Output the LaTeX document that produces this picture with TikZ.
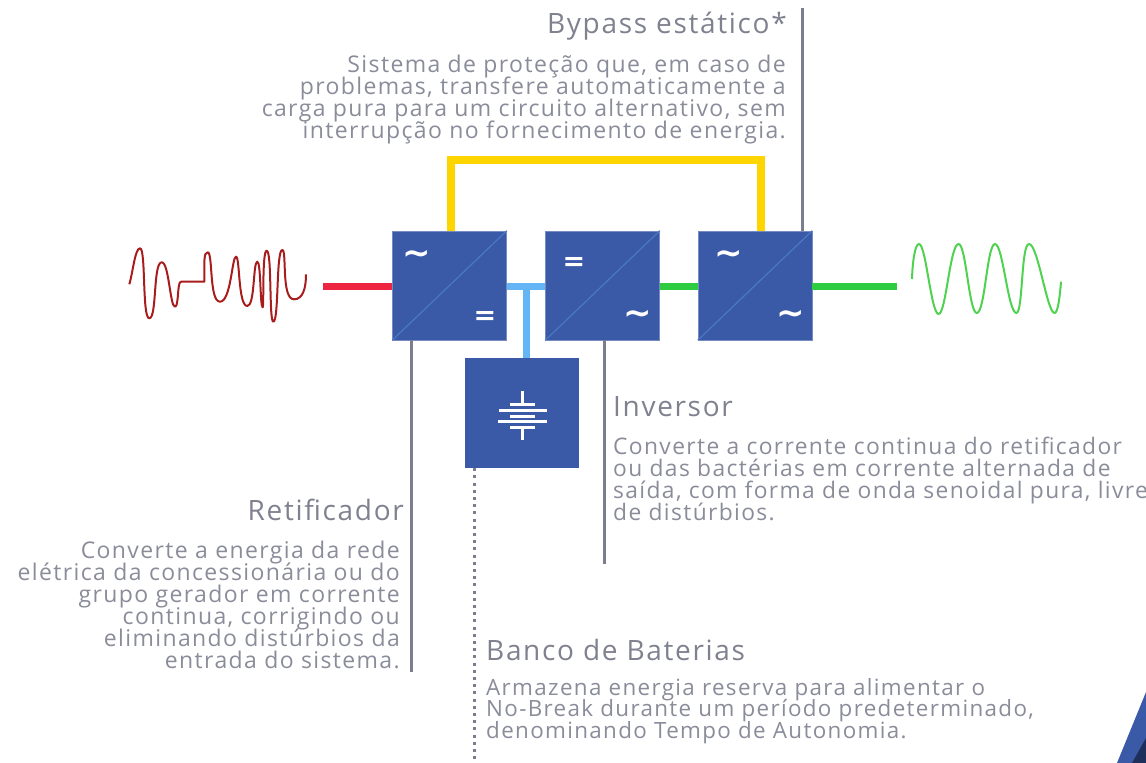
\documentclass[tikz,border=0pt]{standalone}
\usepackage{fontspec}
\setmainfont{Open Sans}[LetterSpace=6]
\newfontfamily\symfont{DejaVu Sans}
\setlength{\lineskiplimit}{-20pt}
\setlength{\normallineskiplimit}{-20pt}
\definecolor{boxblue}{HTML}{3A5AA8}
\definecolor{diagblue}{HTML}{4A78C4}
\definecolor{darkblue}{HTML}{1E2F5C}
\definecolor{lineGrey}{HTML}{7C7E90}
\definecolor{headGrey}{HTML}{7F818F}
\definecolor{bodyGrey}{HTML}{8A8C9A}
\definecolor{redline}{HTML}{EE2540}
\definecolor{skyline}{HTML}{64B5F6}
\definecolor{greenline}{HTML}{2ECC40}
\definecolor{yellowline}{HTML}{FFD500}
\definecolor{redwave}{HTML}{A81C1C}
\definecolor{greenwave}{HTML}{4FD24F}
\tikzset{
  conv/.style={draw=boxblue!70!white,line width=.5pt,fill=boxblue,minimum width=114pt,minimum height=109pt,inner sep=0pt},
  battbox/.style={fill=boxblue,minimum width=114pt,minimum height=110pt,inner sep=0pt},
  diag/.style={diagblue,line width=1.2pt},
  sym/.style={text=white,font=\symfont\bfseries\fontsize{27}{27}\selectfont,inner sep=0pt},
  tilde/.style={text=white,font=\symfont\bfseries\fontsize{34}{34}\selectfont,inner sep=0pt},
  head/.style={text=headGrey,font=\fontsize{28}{28}\selectfont,inner sep=0pt},
  body/.style={text=bodyGrey,font=\fontsize{23}{22}\selectfont,inner sep=0pt},
  bodyb/.style={text=bodyGrey,font=\fontsize{22.8}{22}\selectfont,inner sep=0pt},
  bodyc/.style={text=bodyGrey,font=\fontsize{22.4}{21.6}\selectfont,inner sep=0pt},
  wire/.style={line width=7pt},
  leader/.style={lineGrey,line width=3pt},
  battline/.style={white,line width=3pt},
}
\begin{document}
\begin{tikzpicture}[x=1pt,y=-1pt]
\useasboundingbox (0,0) rectangle (1146,763);
% corner decoration
\fill[boxblue] (1146,692) -- (1117,763) -- (1146,763) -- cycle;
\fill[darkblue] (1146,738) -- (1132,763) -- (1146,763) -- cycle;
% coordinates for free ends
\coordinate (redEnd) at (323,286);
\coordinate (greenEnd) at (897,286);
\coordinate (y1) at (451,160);
\coordinate (y2) at (761,160);
\coordinate (bpTop) at (802,8);
\coordinate (retEnd) at (411,672);
\coordinate (invEnd) at (604,564);
\coordinate (batEnd) at (474,760);
\coordinate (tee) at (526,286);
\node[conv] (ret) at (449.5,285.5) {};
\node[conv] (inv) at (602.5,285.5) {};
\node[conv] (byp) at (755,285.5) {};
\node[battbox] (bat) at (522,413) {};
% connectors
\draw[wire,redline] (redEnd) -- (ret.west |- redEnd);
\draw[wire,skyline] (ret.east |- tee) -- (inv.west |- tee);
\draw[wire,skyline] (tee) -- (bat.north -| tee);
\draw[wire,greenline] (inv.east |- tee) -- (byp.west |- tee);
\draw[wire,greenline] (byp.east |- greenEnd) -- (greenEnd);
\draw[yellowline,line width=7.5pt,miter limit=10] (ret.north -| y1) -- (y1) -- (y2) -- (byp.north -| y2);
\draw[leader] (bpTop) -- (byp.north -| bpTop);
\draw[leader] (ret.south -| retEnd) -- (retEnd);
\draw[leader] (inv.south -| invEnd) -- (invEnd);
\draw[lineGrey,line width=3pt,dash pattern=on 3pt off 4.2pt] (bat.south -| batEnd) -- (batEnd);
% diagonals
\draw[diag] (ret.south west) -- (ret.north east);
\draw[diag] (inv.south west) -- (inv.north east);
\draw[diag] (byp.south west) -- (byp.north east);
% symbols
\node[tilde] (s1) at (417,257) {\char"223C};
\node[sym] (s2) at (485,318) {=};
\node[sym] (s3) at (574,264) {=};
\node[tilde] (s4) at (638,317) {\char"223C};
\node[tilde] (s5) at (729,257) {\char"223C};
\node[tilde] (s6) at (791,317) {\char"223C};
% battery symbol
\draw[battline] (522.7,391) -- (522.7,404);
\draw[battline] (522.7,427) -- (522.7,440);
\draw[battline] (510,404) -- (535,404);
\draw[battline] (499,410) -- (547,410);
\draw[battline] (510,416) -- (535,416);
\draw[battline] (498,421) -- (547,421);
\draw[battline] (510,427) -- (535,427);
% waves
\draw[redwave,line width=2pt,line join=round]
 (129.3,284.3) .. controls (133,272) and (135,248.3) .. (140,248.3)
 .. controls (146,248.3) and (142,318.3) .. (149.3,318.3)
 .. controls (157,318.3) and (153,262.3) .. (161.7,262.3)
 .. controls (169,262.3) and (170,306.7) .. (175,306.7)
 .. controls (179,306.7) and (177,281.7) .. (181,281.7)
 -- (204.3,281.7) .. controls (204.5,262) and (203.5,252.3) .. (207.7,252.3)
 .. controls (213,252.3) and (209,301.7) .. (220,301.7)
 .. controls (231,301.7) and (232,256.7) .. (236,256.7)
 .. controls (240,256.7) and (238,306) .. (247.3,306)
 .. controls (255,306) and (253,261.7) .. (257.3,261.7)
 .. controls (261,261.7) and (260,307.3) .. (262.7,307.3)
 .. controls (264,307.3) and (262,250.7) .. (266.7,250.7)
 .. controls (272,250.7) and (269,321.7) .. (273.3,321.7)
 .. controls (279,321.7) and (276,250) .. (282.3,250)
 .. controls (287,250) and (281,299.3) .. (294,299.3)
 .. controls (303,299.3) and (306,288) .. (306,274.3);
\draw[greenwave,line width=2pt]
 (912,279) .. controls (912.5,262) and (915,244) .. (919,244)
 .. controls (926,244) and (931,314) .. (938.6,314)
 .. controls (946,314) and (950,244) .. (958.6,244)
 .. controls (966,244) and (969,313) .. (976.8,313)
 .. controls (985,313) and (987,244) .. (995,244)
 .. controls (1003,244) and (1008,313) .. (1016.4,313)
 .. controls (1023,313) and (1021,244) .. (1029,244)
 .. controls (1038,244) and (1047,313) .. (1054.6,313)
 .. controls (1058,313) and (1060,295) .. (1061,281.7);
% labels
\node[head,anchor=base east] (t1) at (787,33) {Bypass estático*};
\node[body,anchor=north east,align=right] (t2) at (786,55) {Sistema de proteção que, em caso de\\problemas, transfere automaticamente a\\carga pura para um circuito alternativo, sem\\interrupção no fornecimento de energia.};
\node[head,anchor=base west] (t3) at (613,416) {Inversor};
\node[bodyb,anchor=north west,align=left] (t4) at (613,437) {Converte a corrente continua do retificador\\ou das bactérias em corrente alternada de\\saída, com forma de onda senoidal pura, livre\\de distúrbios.};
\node[head,anchor=base east] (t5) at (404,520) {Retificador};
\node[body,anchor=north east,align=right] (t6) at (400,541) {Converte a energia da rede\\elétrica da concessionária ou do\\grupo gerador em corrente\\continua, corrigindo ou\\eliminando distúrbios da\\entrada do sistema.};
\node[head,anchor=base west] (t7) at (486,660) {Banco de Baterias};
\node[bodyc,anchor=north west,align=left] (t8) at (486,678) {Armazena energia reserva para alimentar o\\No-Break durante um período predeterminado,\\denominando Tempo de Autonomia.};
\end{tikzpicture}
\end{document}
